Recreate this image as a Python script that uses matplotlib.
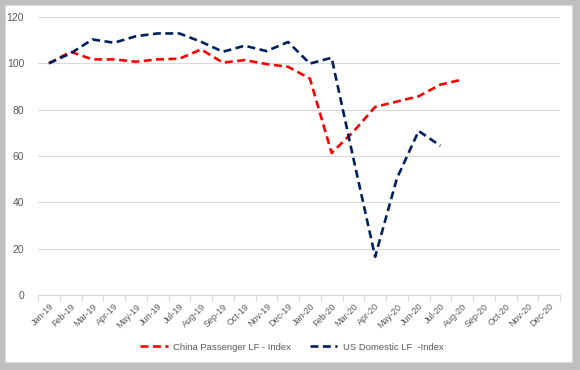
import numpy as np
import matplotlib
matplotlib.use('Agg')
import matplotlib.pyplot as plt
from matplotlib.patches import Rectangle

plt.rcParams['font.family'] = ['Liberation Sans', 'DejaVu Sans']

months = ['Jan-19', 'Feb-19', 'Mar-19', 'Apr-19', 'May-19', 'Jun-19', 'Jul-19', 'Aug-19',
          'Sep-19', 'Oct-19', 'Nov-19', 'Dec-19', 'Jan-20', 'Feb-20', 'Mar-20', 'Apr-20',
          'May-20', 'Jun-20', 'Jul-20', 'Aug-20', 'Sep-20', 'Oct-20', 'Nov-20', 'Dec-20']

# index values (Jan-19 = 100)
china_lf = [100, 105, 101.7, 101.7, 100.7, 101.7, 102, 106, 100.3, 101.4, 99.7, 98.5,
            93.4, 61.3, 70.5, 81.2, 83.5, 85.8, 90.8, 93]
us_lf = [100, 104.3, 110.3, 108.9, 111.7, 112.9, 112.9, 109.3, 105, 107.6, 105.3, 109.2,
         99.9, 102.4, 59, 16.5, 50.3, 70.8, 64.4]

fig = plt.figure(figsize=(5.8, 3.7), dpi=100)
fig.patch.set_facecolor('#bfbfbf')
# white chart area inside the gray frame
frame = Rectangle((5/580, 8/370), 567/580, 357/370, transform=fig.transFigure,
                  facecolor='white', edgecolor='#d9d9d9', lw=0.8, zorder=-10)
fig.add_artist(frame)

ax = fig.add_axes([38/580, 1-295/370, 522/580, 278/370])
ax.set_facecolor('none')
ax.set_zorder(5)

x = np.arange(len(months))
ax.plot(x[:len(china_lf)], china_lf, color='#ff0000', lw=1.9, dashes=(3, 1.7),
        label='China Passenger LF - Index')
ax.plot(x[:len(us_lf)], us_lf, color='#002060', lw=1.9, dashes=(3, 1.7),
        label='US Domestic LF  -Index')

ax.set_xlim(-0.5, len(months) - 0.5)
ax.set_ylim(0, 120)
ax.set_yticks(range(0, 121, 20))
ax.yaxis.grid(True, color='#d9d9d9', lw=0.8)
ax.set_axisbelow(True)
ax.tick_params(axis='y', length=0, labelsize=7.5, labelcolor='#595959', pad=10)

# category labels at centres, tick marks at boundaries like Excel
ax.set_xticks(x)
ax.set_xticklabels(months, rotation=45, ha='right', rotation_mode='anchor')
ax.tick_params(axis='x', which='major', length=0, labelsize=6.5, labelcolor='#595959', pad=5)
ax.set_xticks(np.arange(-0.5, len(months), 1), minor=True)
ax.tick_params(axis='x', which='minor', length=4, color='#d9d9d9', width=0.8)

for s in ['left', 'right', 'top']:
    ax.spines[s].set_visible(False)
ax.spines['bottom'].set_color('#d9d9d9')
ax.spines['bottom'].set_linewidth(0.8)

ax.legend(loc='center', bbox_to_anchor=(292/580, 1-347/370), bbox_transform=fig.transFigure,
          ncol=2, frameon=False, fontsize=6.8, handlelength=2.9, handletextpad=0.6,
          columnspacing=2.0, labelcolor='#595959')

fig.savefig('out.png', dpi=100, facecolor=fig.get_facecolor())
